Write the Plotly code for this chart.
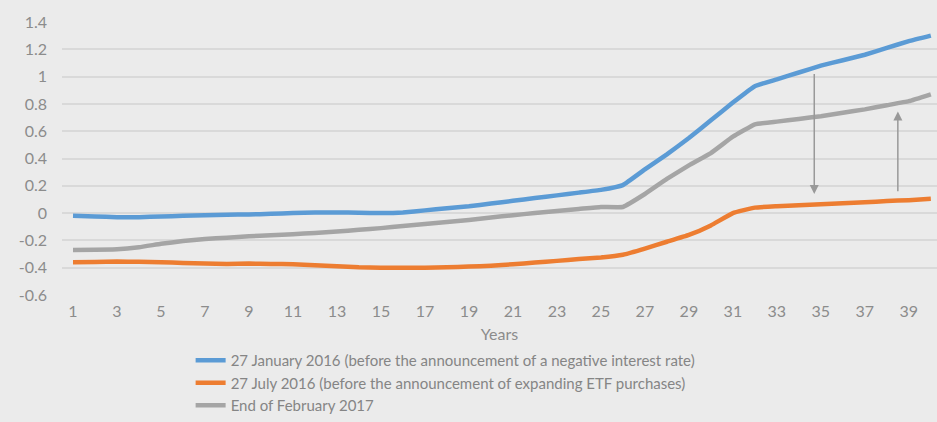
import plotly.graph_objects as go

years = list(range(1, 41))

jan2016 = [-0.02, -0.025, -0.03, -0.03, -0.025, -0.02, -0.015, -0.012, -0.01, -0.005,
           0.0, 0.005, 0.005, 0.002, 0.0, 0.005, 0.02, 0.035, 0.05, 0.07,
           0.09, 0.11, 0.13, 0.15, 0.17, 0.205, 0.32, 0.43, 0.55, 0.68,
           0.81, 0.93, 0.98, 1.03, 1.08, 1.12, 1.16, 1.21, 1.26, 1.30]

jul2016 = [-0.36, -0.358, -0.355, -0.357, -0.36, -0.365, -0.37, -0.372, -0.37, -0.372,
           -0.375, -0.382, -0.39, -0.397, -0.40, -0.40, -0.40, -0.397, -0.392, -0.385,
           -0.375, -0.362, -0.35, -0.337, -0.325, -0.305, -0.26, -0.21, -0.16, -0.09,
           0.0, 0.04, 0.05, 0.058, 0.065, 0.072, 0.08, 0.088, 0.095, 0.105]

feb2017 = [-0.27, -0.268, -0.265, -0.25, -0.225, -0.205, -0.19, -0.18, -0.17, -0.162,
           -0.155, -0.145, -0.135, -0.122, -0.11, -0.095, -0.08, -0.065, -0.05, -0.032,
           -0.015, 0.0, 0.015, 0.03, 0.045, 0.045, 0.14, 0.25, 0.35, 0.44,
           0.56, 0.65, 0.67, 0.69, 0.71, 0.735, 0.76, 0.79, 0.82, 0.87]

names = ["27 January 2016 (before the announcement of a negative interest rate)",
         "27 July 2016 (before the announcement of expanding ETF purchases)",
         "End of February 2017"]
colors = ["#5b9bd5", "#ed7d31", "#a5a5a5"]

fig = go.Figure()
for vals, nm, c in zip([jan2016, jul2016, feb2017], names, colors):
    fig.add_trace(go.Scatter(x=years, y=vals, name=nm, mode="lines",
                             line=dict(color=c, width=4.5, shape="spline", smoothing=0.3)))

# arrows: (tail_x, tail_y) -> (head_x, head_y)
arrows = [(34.7, 1.03, 34.7, 0.14), (38.5, 0.15, 38.5, 0.745)]
for tx, ty, hx, hy in arrows:
    fig.add_annotation(x=hx, y=hy, ax=tx, ay=ty, xref="x", yref="y", axref="x", ayref="y",
                       text="", showarrow=True, arrowhead=2, arrowsize=1.2, arrowwidth=1.5,
                       arrowcolor="#999999")

bg = "#ebebeb"
fig.update_layout(
    width=937, height=422,
    paper_bgcolor=bg, plot_bgcolor=bg,
    margin=dict(l=62, r=0, t=22, b=126),
    font=dict(family="Lato", size=16, color="#8c8c8c"),
    showlegend=True,
    legend=dict(x=0.147, y=-0.18, xanchor="left", yanchor="top", orientation="v",
                bgcolor="rgba(0,0,0,0)", font=dict(size=15, color="#858585"),
                itemwidth=30, tracegroupgap=0),
)
fig.update_xaxes(range=[0.5, 40.28], tickmode="array", tickvals=list(range(1, 41, 2)),
                 ticktext=[str(v) for v in range(1, 41, 2)], showgrid=False, zeroline=False,
                 showline=False, ticks="", ticklabelstandoff=5,
                 title=dict(text="Years", standoff=9, font=dict(size=16, color="#8c8c8c")))
fig.update_yaxes(range=[-0.6, 1.4], tickmode="array",
                 tickvals=[-0.6, -0.4, -0.2, 0, 0.2, 0.4, 0.6, 0.8, 1.0, 1.2, 1.4],
                 ticktext=["-0.6", "-0.4", "-0.2", "0", "0.2", "0.4", "0.6", "0.8", "1", "1.2", "1.4"],
                 showgrid=True, gridcolor="#d9d9d9", gridwidth=1.5, zeroline=False,
                 showline=False, ticks="", ticklabelstandoff=14)

fig.write_html("out.html")
